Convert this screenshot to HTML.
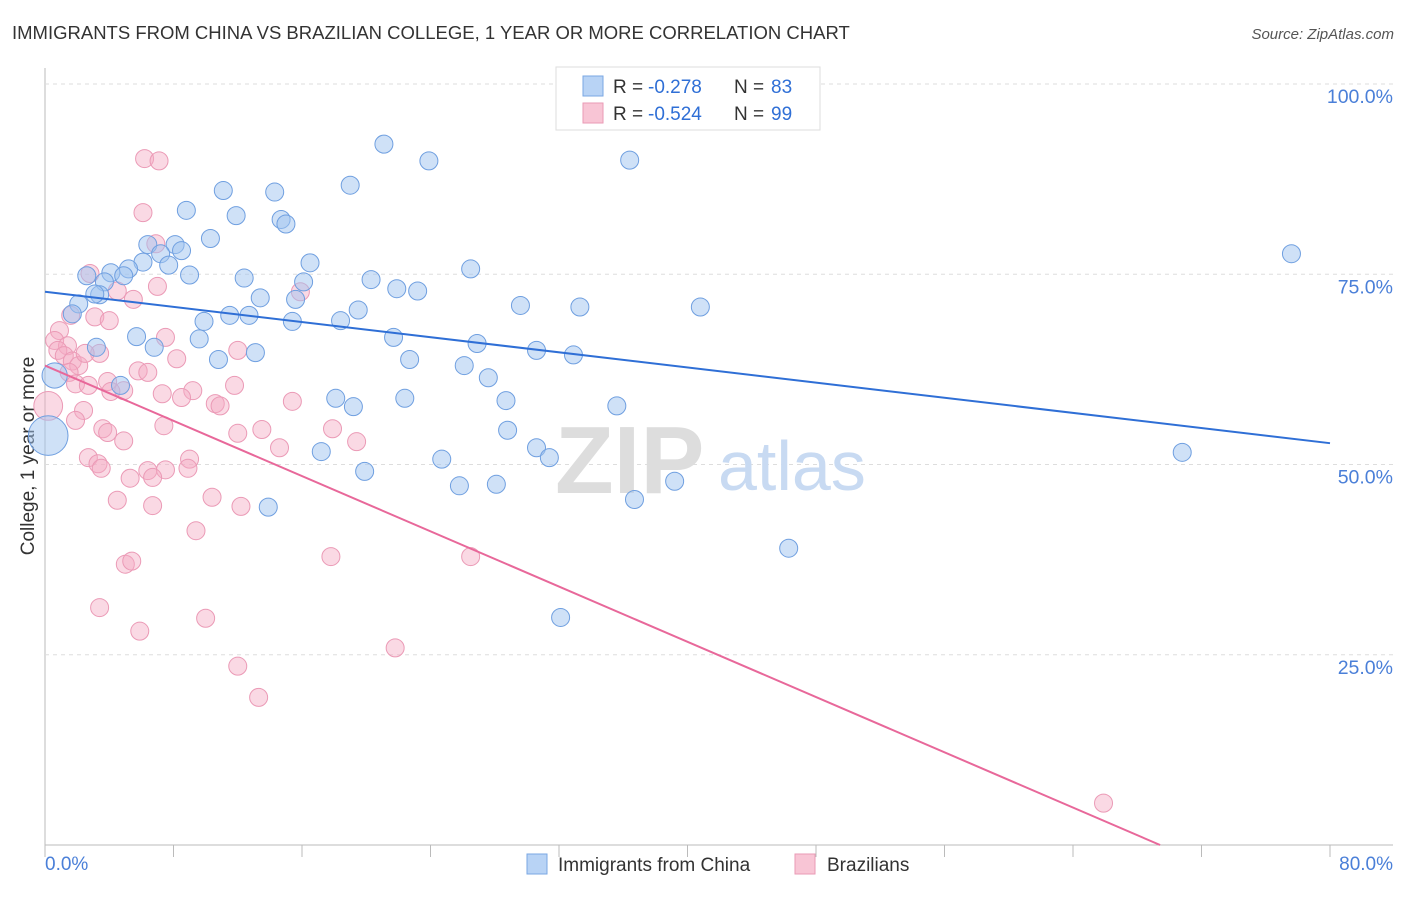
<!DOCTYPE html>
<html><head><meta charset="utf-8"><style>
body{margin:0;background:#fff;font-family:"Liberation Sans",sans-serif;}
svg text{font-family:"Liberation Sans",sans-serif;}
</style></head><body>
<svg id="chart" width="1406" height="892">
<text x="12" y="39" font-size="18.5" fill="#333">IMMIGRANTS FROM CHINA VS BRAZILIAN COLLEGE, 1 YEAR OR MORE CORRELATION CHART</text>
<text x="1394" y="39" font-size="15" fill="#555" font-style="italic" text-anchor="end">Source: ZipAtlas.com</text>
<text transform="translate(34,456) rotate(-90)" font-size="19" fill="#333" text-anchor="middle">College, 1 year or more</text>
<g id="grid"></g>
<g>
<text x="555" y="493" font-size="96" fill="#ddd" font-family="Liberation Serif" font-weight="bold">ZIP</text>
<text x="718" y="490" font-size="70" fill="#c8daf2">atlas</text>
</g>
<g id="marks"></g>
<g>
<rect x="556" y="67" width="264" height="63" fill="#fff" stroke="#ddd"/>
<rect x="583" y="76" width="20" height="20" fill="#b8d3f5" stroke="#7aa7e3"/>
<rect x="583" y="103" width="20" height="20" fill="#f8c5d5" stroke="#ea9ab5"/>
<text x="613" y="93" font-size="19" fill="#333">R =</text>
<text x="648" y="93" font-size="19" fill="#2f6fd6">-0.278</text>
<text x="734" y="93" font-size="19" fill="#333">N =</text>
<text x="771" y="93" font-size="19" fill="#2f6fd6">83</text>
<text x="613" y="120" font-size="19" fill="#333">R =</text>
<text x="648" y="120" font-size="19" fill="#2f6fd6">-0.524</text>
<text x="734" y="120" font-size="19" fill="#333">N =</text>
<text x="771" y="120" font-size="19" fill="#2f6fd6">99</text>
</g>
<g>
<rect x="527" y="854" width="20" height="20" fill="#b8d3f5" stroke="#7aa7e3"/>
<text x="558" y="871" font-size="19" fill="#333">Immigrants from China</text>
<rect x="795" y="854" width="20" height="20" fill="#f8c5d5" stroke="#ea9ab5"/>
<text x="827" y="871" font-size="19" fill="#333">Brazilians</text>
</g>
</svg>
<script>
const xTickVals=[0,8,16,24,32,40,48,56,64,72,80];
const yTickVals=[25,50,75,100];
const yTickLabels=["25.0%","50.0%","75.0%","100.0%"];
const xEndLabels=["0.0%","80.0%"];
const chinaX=[21.1,23.9,36.4,19.0,11.1,14.3,8.8,11.9,14.7,15.0,10.3,6.4,8.1,8.5,7.2,7.7,6.1,5.2,16.5,2.6,4.1,4.9,9.0,12.4,16.1,20.3,26.5,3.7,3.4,3.1,13.4,2.1,1.7,21.9,23.2,15.6,19.5,29.6,33.3,40.8,11.5,12.7,9.9,18.4,15.4,5.7,9.6,21.7,26.9,6.8,13.1,30.6,32.9,10.8,22.7,26.1,27.6,4.7,18.1,22.4,28.7,19.2,35.6,28.8,17.2,30.6,31.4,24.7,19.9,25.8,28.1,39.2,36.7,13.9,46.3,32.1,77.6,70.8,3.2,0.2,0.6];
const chinaY=[92.1,89.9,90.0,86.7,86.0,85.8,83.4,82.7,82.2,81.6,79.7,78.9,78.9,78.1,77.7,76.2,76.6,75.7,76.5,74.8,75.2,74.8,74.9,74.5,74.0,74.3,75.7,74.0,72.3,72.4,71.9,71.1,69.8,73.1,72.8,71.7,70.3,70.9,70.7,70.7,69.6,69.6,68.8,68.9,68.8,66.8,66.5,66.7,65.9,65.4,64.7,65.0,64.4,63.8,63.8,63.0,61.4,60.4,58.7,58.7,58.4,57.6,57.7,54.5,51.7,52.2,50.9,50.7,49.1,47.2,47.4,47.8,45.4,44.4,39.0,29.9,77.7,51.6,65.4,53.8,61.7];
const chinaSize=[1,1,1,1,1,1,1,1,1,1,1,1,1,1,1,1,1,1,1,1,1,1,1,1,1,1,1,1,1,1,1,1,1,1,1,1,1,1,1,1,1,1,1,1,1,1,1,1,1,1,1,1,1,1,1,1,1,1,1,1,1,1,1,1,1,1,1,1,1,1,1,1,1,1,1,1,1,1,1,2.2,1.4];
const brazX=[6.2,7.1,6.1,6.9,2.8,4.5,5.5,7.0,15.9,3.1,4.0,0.9,0.6,1.4,0.8,1.2,1.7,2.1,3.4,2.5,1.5,1.9,2.7,3.9,4.9,4.1,7.5,8.2,5.8,6.4,12.0,7.3,9.2,8.5,11.8,10.6,10.9,15.4,2.4,1.9,3.6,3.9,7.4,4.9,12.0,13.5,14.6,19.4,17.9,2.7,3.3,3.5,6.4,9.0,8.9,7.5,5.3,6.7,4.5,6.7,10.4,12.2,9.4,5.0,5.4,17.8,26.5,3.4,5.9,10.0,12.0,13.3,21.8,65.9,0.2,1.6];
const brazY=[90.2,89.9,83.1,79.0,75.1,72.8,71.7,73.4,72.7,69.4,68.9,67.6,66.3,65.6,65.0,64.3,63.6,63.0,64.6,64.6,62.1,60.6,60.4,60.9,59.7,59.6,66.7,63.9,62.3,62.1,65.0,59.3,59.7,58.8,60.4,58.0,57.7,58.3,57.1,55.8,54.7,54.2,55.1,53.1,54.1,54.6,52.2,53.0,54.7,50.9,50.1,49.5,49.2,50.7,49.5,49.3,48.2,48.3,45.3,44.6,45.7,44.5,41.3,36.9,37.3,37.9,37.9,31.2,28.1,29.8,23.5,19.4,25.9,5.5,57.7,69.6];
const brazSize=[1,1,1,1,1,1,1,1,1,1,1,1,1,1,1,1,1,1,1,1,1,1,1,1,1,1,1,1,1,1,1,1,1,1,1,1,1,1,1,1,1,1,1,1,1,1,1,1,1,1,1,1,1,1,1,1,1,1,1,1,1,1,1,1,1,1,1,1,1,1,1,1,1,1,1.6,1];
const chinaTrend=[72.7,52.8];   // y at x=0 and x=80
const brazTrend=[63.0,-9.6];    // y at x=0 and x=80

const NS="http://www.w3.org/2000/svg";
const X0=45,X1=1330,Y0=845,Y100=84;
const xs=v=>X0+(X1-X0)*v/80;
const ys=v=>Y0-(Y0-Y100)*v/100;
function mk(tag,attrs,parent){const e=document.createElementNS(NS,tag);for(const k in attrs)e.setAttribute(k,attrs[k]);parent.appendChild(e);return e;}
const grid=document.getElementById('grid');
const marks=document.getElementById('marks');
let ax=mk('line',{x1:X0,y1:68,x2:X0,y2:Y0,stroke:'#bbb'},grid);


let bx=mk('line',{x1:X0,y1:Y0,x2:1393,y2:Y0,stroke:'#bbb'},grid);


xTickVals.forEach(v=>{
  const t=mk('line',{x1:xs(v),y1:Y0,x2:xs(v),y2:Y0+12,stroke:'#bbb'},grid);
  
  
});
yTickVals.forEach((v,i)=>{
  const g=mk('line',{x1:X0,y1:ys(v),x2:1393,y2:ys(v),stroke:'#ddd','stroke-dasharray':'4,4'},grid);
  
  
  const t=mk('text',{x:1393,y:ys(v)+19,'font-size':19.5,fill:'#4a7fd8','text-anchor':'end'},grid);
  t.textContent=yTickLabels[i];
  
  
});
let xl=mk('text',{x:45,y:870,'font-size':19,fill:'#4a7fd8'},grid);
xl.textContent=xEndLabels[0];


let xr=mk('text',{x:1393,y:870,'font-size':19,fill:'#4a7fd8','text-anchor':'end'},grid);
xr.textContent=xEndLabels[1];


brazX.forEach((v,i)=>{
  const c=mk('circle',{cx:xs(v),cy:ys(brazY[i]),r:9*brazSize[i],fill:'rgba(244,170,195,0.45)',stroke:'#eb9ab6','stroke-width':1},marks);
  
  
});
chinaX.forEach((v,i)=>{
  const c=mk('circle',{cx:xs(v),cy:ys(chinaY[i]),r:9*chinaSize[i],fill:'rgba(160,196,240,0.5)',stroke:'#6f9fe0','stroke-width':1},marks);
  
  
});
let l1=mk('line',{x1:xs(0),y1:ys(chinaTrend[0]),x2:xs(80),y2:ys(chinaTrend[1]),stroke:'#2f6fd6','stroke-width':2},marks);


const bzEnd=brazTrend[0]/(brazTrend[0]-brazTrend[1])*80;
let l2=mk('line',{x1:xs(0),y1:ys(brazTrend[0]),x2:xs(bzEnd),y2:ys(0),stroke:'#e8689a','stroke-width':2},marks);


</script>
</body></html>
